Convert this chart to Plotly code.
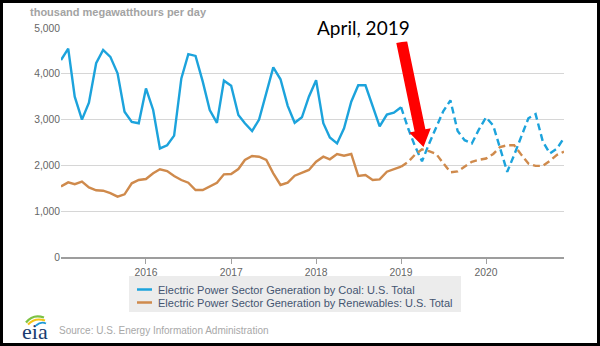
import pandas as pd
import plotly.graph_objects as go

# Monthly series, Jan 2015 - Dec 2020 (thousand MWh per day)
months = pd.date_range("2015-01-01", periods=72, freq="MS")

coal = [
    4300, 4550, 3500, 3000, 3370, 4230, 4520, 4370, 4010, 3170, 2950, 2920,  # 2015
    3680, 3210, 2370, 2440, 2650, 3900, 4430, 4390, 3830, 3210, 2930, 3850,  # 2016
    3740, 3100, 2920, 2750, 3000, 3590, 4140, 3880, 3300, 2930, 3050, 3500,  # 2017
    3860, 2920, 2610, 2480, 2810, 3390, 3750, 3750, 3280, 2850, 3110, 3150,  # 2018
    3270, 2800, 2430, 2090, 2470, 2850, 3180, 3420, 2750, 2550, 2480, 2780,  # 2019
    3050, 2870, 2380, 1860, 2230, 2630, 3030, 3120, 2520, 2260, 2370, 2600,  # 2020
]

renewables = [
    1540, 1630, 1590, 1645, 1520, 1456, 1448, 1395, 1317, 1369, 1609, 1681,  # 2015
    1703, 1827, 1915, 1878, 1769, 1681, 1622, 1463, 1463, 1550, 1622, 1805,  # 2016
    1812, 1921, 2118, 2205, 2190, 2118, 1827, 1572, 1622, 1775, 1835, 1900,  # 2017
    2082, 2190, 2133, 2249, 2212, 2249, 1769, 1790, 1681, 1696, 1863, 1921,  # 2018
    1972, 2080, 2230, 2350, 2310, 2250, 2050, 1850, 1870, 1970, 2080, 2120,  # 2019
    2150, 2250, 2400, 2440, 2440, 2230, 2040, 1990, 1990, 2100, 2230, 2300,  # 2020
]

forecast_start = 48  # Jan 2019: history is solid, forecast dashed from here

series_names = [
    "Electric Power Sector Generation by Coal: U.S. Total",
    "Electric Power Sector Generation by Renewables: U.S. Total",
]
year_ticks = ["2016-01-01", "2017-01-01", "2018-01-01", "2019-01-01", "2020-01-01"]
year_labels = ["2016", "2017", "2018", "2019", "2020"]
y_ticks = [0, 1000, 2000, 3000, 4000, 5000]
y_labels = ["0", "1,000", "2,000", "3,000", "4,000", "5,000"]

COAL_COLOR = "#1ca3dc"
REN_COLOR = "#cf8a4c"

# Plot-area geometry in pixels (600 x 346 canvas)
L, R, T, B = 61, 564, 28, 257
W, H = 600, 346


def px(x):
    return (x - L) / (R - L)


def py(y):
    return (B - y) / (B - T)


fig = go.Figure()
for vals, color, name in [(coal, COAL_COLOR, series_names[0]),
                          (renewables, REN_COLOR, series_names[1])]:
    fig.add_trace(go.Scatter(
        x=months[:forecast_start + 1], y=vals[:forecast_start + 1],
        mode="lines", name=name, showlegend=False,
        line=dict(color=color, width=2.4),
    ))
    fig.add_trace(go.Scatter(
        x=months[forecast_start:], y=vals[forecast_start:],
        mode="lines", name=name + " (forecast)", showlegend=False,
        line=dict(color=color, width=2.4, dash="7px,4px"),
    ))

shapes = []
# outer black frame
shapes.append(dict(type="rect", xref="paper", yref="paper",
                   x0=px(1.5), x1=px(W - 1.5), y0=py(H - 1.5), y1=py(1.5),
                   line=dict(color="black", width=3), fillcolor="rgba(0,0,0,0)",
                   layer="above"))
# legend box
shapes.append(dict(type="rect", xref="paper", yref="paper",
                   x0=px(129), x1=px(461), y0=py(312), y1=py(276),
                   line=dict(width=0), fillcolor="#ececec", layer="below"))
for color, yy in [(COAL_COLOR, 289.5), (REN_COLOR, 302.5)]:
    shapes.append(dict(type="line", xref="paper", yref="paper",
                       x0=px(137), x1=px(152), y0=py(yy), y1=py(yy),
                       line=dict(color=color, width=2.5)))

# red arrow pointing at April 2019
arrow_pts = [(407.1, 40.9), (425.4, 129.3), (430.8, 128.2), (423.5, 147.0),
             (409.2, 132.6), (414.6, 131.5), (396.3, 43.1)]
path = "M " + " L ".join(f"{px(x):.5f},{py(y):.5f}" for x, y in arrow_pts) + " Z"
shapes.append(dict(type="path", xref="paper", yref="paper", path=path,
                   fillcolor="#ff0000", line=dict(width=0), layer="above"))

# eia logo swooshes
for color, (x0, y0, cx, cy, x1, y1), wdt in [
    ("#7dc242", (26, 322.5, 33, 313.5, 44, 317.5), 2.2),
    ("#f6c414", (28, 324.5, 35, 317.0, 45, 320.5), 2.0),
    ("#1e9ad6", (36, 325.5, 41, 321.0, 46, 323.5), 1.8),
]:
    shapes.append(dict(type="path", xref="paper", yref="paper",
                       path=f"M {px(x0):.5f},{py(y0):.5f} Q {px(cx):.5f},{py(cy):.5f} {px(x1):.5f},{py(y1):.5f}",
                       line=dict(color=color, width=wdt)))

annotations = [
    dict(xref="paper", yref="paper", x=px(28), y=py(12), xanchor="left", yanchor="middle",
         text="thousand megawatthours per day", showarrow=False,
         font=dict(family="Liberation Sans, Arial", size=11, color="#a3a3a3", weight="bold")),
    dict(xref="paper", yref="paper", x=px(363), y=py(27), xanchor="center", yanchor="middle",
         text="April, 2019", showarrow=False, bgcolor="white", borderpad=2,
         font=dict(family="Lato, Liberation Sans", size=19, color="black")),
    dict(xref="paper", yref="paper", x=px(156), y=py(289.5), xanchor="left", yanchor="middle",
         text=series_names[0], showarrow=False,
         font=dict(family="Liberation Sans, Arial", size=11, color="#445571")),
    dict(xref="paper", yref="paper", x=px(156), y=py(302.5), xanchor="left", yanchor="middle",
         text=series_names[1], showarrow=False,
         font=dict(family="Liberation Sans, Arial", size=11, color="#445571")),
    dict(xref="paper", yref="paper", x=px(57), y=py(330), xanchor="left", yanchor="middle",
         text="Source: U.S. Energy Information Administration", showarrow=False,
         font=dict(family="Liberation Sans, Arial", size=10, color="#a8a8a8")),
    dict(xref="paper", yref="paper", x=px(35), y=py(331), xanchor="center", yanchor="middle",
         text="eia", showarrow=False,
         font=dict(family="Liberation Serif, DejaVu Serif", size=22, color="#1b3c70")),
]

fig.update_layout(
    width=W, height=H,
    margin=dict(l=L, r=W - R, t=T, b=H - B, pad=0),
    paper_bgcolor="white", plot_bgcolor="white",
    showlegend=False,
    shapes=shapes, annotations=annotations,
    xaxis=dict(
        type="date", range=[months[0], months[-1]],
        tickvals=year_ticks, ticktext=year_labels,
        ticks="outside", ticklen=5, tickcolor="#a0a0a0", tickwidth=1,
        showgrid=False, zeroline=False,
        showline=True, linecolor="#9d9d9d", linewidth=2,
        tickfont=dict(family="Liberation Sans, Arial", size=10.3, color="#666666"),
    ),
    yaxis=dict(
        range=[0, 5000], tickvals=y_ticks, ticktext=y_labels,
        showgrid=True, gridcolor="#d6d6d6", gridwidth=1,
        zeroline=False, showline=False, ticks="",
        tickfont=dict(family="Liberation Sans, Arial", size=10.3, color="#666666"),
    ),
)

fig.write_html("out.html")
